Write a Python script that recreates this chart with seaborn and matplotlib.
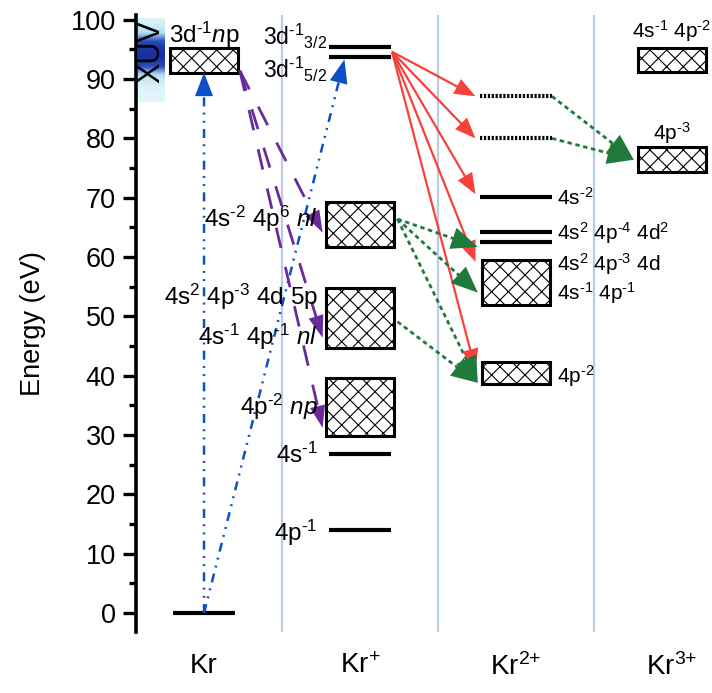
import numpy as np
import matplotlib
matplotlib.use("Agg")
import matplotlib.pyplot as plt
import seaborn as sns
from matplotlib.patches import Rectangle, FancyArrowPatch
from matplotlib.colors import LinearSegmentedColormap

sns.set_theme(style="white")
plt.rcParams["font.family"] = ["Liberation Sans", "DejaVu Sans"]
plt.rcParams["mathtext.fontset"] = "custom"
plt.rcParams["mathtext.rm"] = "Liberation Sans"
plt.rcParams["mathtext.it"] = "Liberation Sans:italic"
plt.rcParams["mathtext.bf"] = "Liberation Sans:bold"
plt.rcParams["hatch.linewidth"] = 0.8
plt.rcParams["lines.scale_dashes"] = False
for k in ["text.color", "axes.labelcolor", "xtick.color", "ytick.color"]:
    plt.rcParams[k] = "black"

# ---------------- data ----------------
species = ["Kr", r"Kr$^{\text{+}}$", r"Kr$^{\text{2+}}$", r"Kr$^{\text{3+}}$"]

# sharp levels
line_col = [0, 1, 1, 1, 1, 2, 2, 2, 2, 2]
line_energy = [0.0, 95.4, 93.7, 26.8, 14.0, 87.2, 80.0, 70.1, 64.2, 62.5]
line_dotted = [False, False, False, False, False, True, True, False, False, False]

# broad bands (hatched)
band_col = [0, 1, 1, 1, 2, 2, 3, 3]
band_low = [91.1, 61.7, 44.7, 29.8, 51.9, 38.6, 91.2, 74.4]
band_high = [95.3, 69.2, 54.8, 39.6, 59.5, 42.3, 95.2, 78.6]

# XUV excitation (blue)
xuv_src_col = [0, 0]
xuv_src_E = [0.0, 0.0]
xuv_dst_col = [0, 1]
xuv_dst_E = [91.1, 93.3]

# resonant Auger decay (purple)
ra_src_col = [0, 0, 0]
ra_src_E = [91.4, 91.4, 91.4]
ra_dst_col = [1, 1, 1]
ra_dst_E = [64.1, 46.4, 31.2]

# Auger decay of 3d holes (red)
au_src_col = [1, 1, 1, 1, 1]
au_src_E = [94.6, 94.6, 94.6, 94.6, 94.6]
au_dst_col = [2, 2, 2, 2, 2]
au_dst_E = [87.1, 80.0, 70.6, 59.2, 41.0]

# secondary decays (green)
sd_src_col = [1, 1, 1, 1, 2, 2]
sd_src_E = [66.4, 66.4, 66.4, 49.1, 87.1, 80.0]
sd_dst_col = [2, 2, 2, 2, 3, 3]
sd_dst_E = [61.7, 54.0, 38.8, 38.8, 76.4, 76.4]

# labels  (\text{-} gives a short hyphen-like minus as in the original)
M = r"\text{-}"
left_label_text = [f"4s$^{{{M}2}}$ 4p$^{{6}}$ $nl$", f"4s$^{{2}}$ 4p$^{{{M}3}}$ 4d 5p",
                   f"4s$^{{{M}1}}$ 4p$^{{{M}1}}$ $nl$", f"4p$^{{{M}2}}$ $np$",
                   f"4s$^{{{M}1}}$", f"4p$^{{{M}1}}$"]
left_label_E = [65.1, 51.9, 45.2, 33.4, 25.3, 12.1]
right_label_text = [f"4s$^{{{M}2}}$", f"4s$^{{2}}$ 4p$^{{{M}4}}$ 4d$^{{2}}$",
                    f"4s$^{{2}}$ 4p$^{{{M}3}}$ 4d", f"4s$^{{{M}1}}$ 4p$^{{{M}1}}$",
                    f"4p$^{{{M}2}}$"]
right_label_E = [68.8, 62.9, 57.7, 52.8, 38.8]
top_label_text = [f"3d$^{{{M}1}}$$n$p", f"4s$^{{{M}1}}$ 4p$^{{{M}2}}$", f"4p$^{{{M}3}}$"]
top_label_col = [0, 3, 3]
top_label_E = [96.1, 97.0, 79.8]
core_label_text = [f"3d$^{{{M}1}}$${{}}_{{3/2}}$", f"3d$^{{{M}1}}$${{}}_{{5/2}}$"]
core_label_E = [95.8, 90.2]

# ---------------- figure ----------------
W, H = 712, 693
fig = plt.figure(figsize=(W / 100, H / 100), dpi=100)
ax = fig.add_axes([136 / W, (H - 632) / H, 1 - 136 / W, (632 - 15) / H])
ax.set_xlim(-0.436, 3.256)
ax.set_ylim(-3.2, 100.8)

FS_L = 17.5   # Kr / Kr+ labels
FS_R = 15.0   # Kr2+ / Kr3+ labels
box_hw = 0.22
line_hw = {0: 0.2, 1: 0.2, 2: 0.23}

# column dividers
for xd in [0.5, 1.5, 2.5]:
    ax.axvline(xd, color="#b9cbe3", lw=1.6, zorder=0)

# XUV gradient patch
yy = np.linspace(86.2, 100.3, 200)
prof = np.exp(-((yy - 94.3) / 3.4) ** 2)
grad = np.tile(prof[:, None], (1, 20))
cmap = LinearSegmentedColormap.from_list("xuv", ["#e3f6fc", "#b3dcf3", "#2a4fc0", "#1a2f9e"])
ax.imshow(grad, extent=[-0.423, -0.256, 86.2, 100.3], origin="lower",
          cmap=cmap, aspect="auto", zorder=1, interpolation="bilinear")
ax.text(-0.34, 94.6, "XUV", rotation=90, ha="center", va="center",
        fontsize=22, zorder=2)

# levels
for c, e, d in zip(line_col, line_energy, line_dotted):
    hw = line_hw[c]
    sns.lineplot(x=[c - hw, c + hw], y=[e, e], ax=ax, color="black",
                 lw=3.0, linestyle=(0, (1.6, 1.2)) if d else "-",
                 solid_capstyle="butt", dash_capstyle="butt", zorder=3)

# bands
for c, lo, hi in zip(band_col, band_low, band_high):
    ax.add_patch(Rectangle((c - box_hw, lo), 2 * box_hw, hi - lo, facecolor="white",
                           edgecolor="black", hatch="xx", lw=2.2, zorder=3))


def arrow(p0, p1, color, ls, lw, hl, hw, z=4):
    line = FancyArrowPatch(p0, p1, arrowstyle="-", shrinkA=0, shrinkB=hl * 0.6,
                           color=color, lw=lw, linestyle=ls, zorder=z,
                           capstyle="butt")
    ax.add_patch(line)
    head = FancyArrowPatch(p0, p1, arrowstyle=f"-|>,head_length={hl},head_width={hw}",
                           shrinkA=0, shrinkB=0, mutation_scale=1, color=color,
                           lw=0, zorder=z + 0.1)
    ax.add_patch(head)


blue = "#0d4fc6"
for sc, se, dc, de in zip(xuv_src_col, xuv_src_E, xuv_dst_col, xuv_dst_E):
    x1 = dc if dc == sc else dc - 0.1
    arrow((sc, se), (x1, de), blue, (0, (6.5, 4.5, 1.4, 4.5, 1.4, 4.5)), 1.8, 17, 6.5)

purple = "#6a2a9c"
for sc, se, dc, de in zip(ra_src_col, ra_src_E, ra_dst_col, ra_dst_E):
    arrow((sc + box_hw + 0.01, se), (dc - box_hw - 0.02, de), purple,
          (0, (15, 14)), 2.0, 16, 5.5)

red = "#f6423b"
for sc, se, dc, de in zip(au_src_col, au_src_E, au_dst_col, au_dst_E):
    arrow((sc + line_hw[sc] + 0.005, se), (dc - line_hw[dc] - 0.03, de), red,
          "-", 1.6, 15, 6.0)

green = "#1f7a3c"
for sc, se, dc, de in zip(sd_src_col, sd_src_E, sd_dst_col, sd_dst_E):
    x0 = sc + (box_hw + 0.02 if sc == 1 else line_hw[sc])
    arrow((x0, se), (dc - box_hw - 0.025, de), green, (0, (3.2, 2.6)), 2.0, 19, 8.0)

# text labels
for t, e in zip(left_label_text, left_label_E):
    ax.text(1 - 0.27, e, t, ha="right", va="baseline", fontsize=FS_L, zorder=5)
for t, e in zip(right_label_text, right_label_E):
    ax.text(2 + 0.263, e, t, ha="left", va="baseline", fontsize=FS_R, zorder=5)
for t, c, e in zip(top_label_text, top_label_col, top_label_E):
    ax.text(c, e, t, ha="center", va="baseline",
            fontsize=FS_L if c < 2 else FS_R, zorder=5)
for t, e in zip(core_label_text, core_label_E):
    ax.text(1 - 0.212, e, t, ha="right", va="baseline", fontsize=16.5, zorder=5)

# axes styling
for s in ["top", "right", "bottom"]:
    ax.spines[s].set_visible(False)
ax.spines["left"].set_linewidth(2.6)
ax.spines["left"].set_color("black")
ax.set_yticks(np.arange(0, 101, 10))
ax.set_yticks(np.arange(5, 100, 10), minor=True)
ax.tick_params(axis="y", which="major", direction="out", length=9.5, width=2.4,
               labelsize=19.5, pad=5, left=True)
ax.tick_params(axis="y", which="minor", direction="out", length=5, width=2.4,
               left=True)
ax.set_xticks(range(len(species)))
ax.set_xticklabels(species)
ax.tick_params(axis="x", length=0, pad=15, labelsize=20)
ax.set_ylabel("Energy (eV)", fontsize=19.5, labelpad=18)
ax.grid(False)

fig.savefig("out.png", dpi=100)
